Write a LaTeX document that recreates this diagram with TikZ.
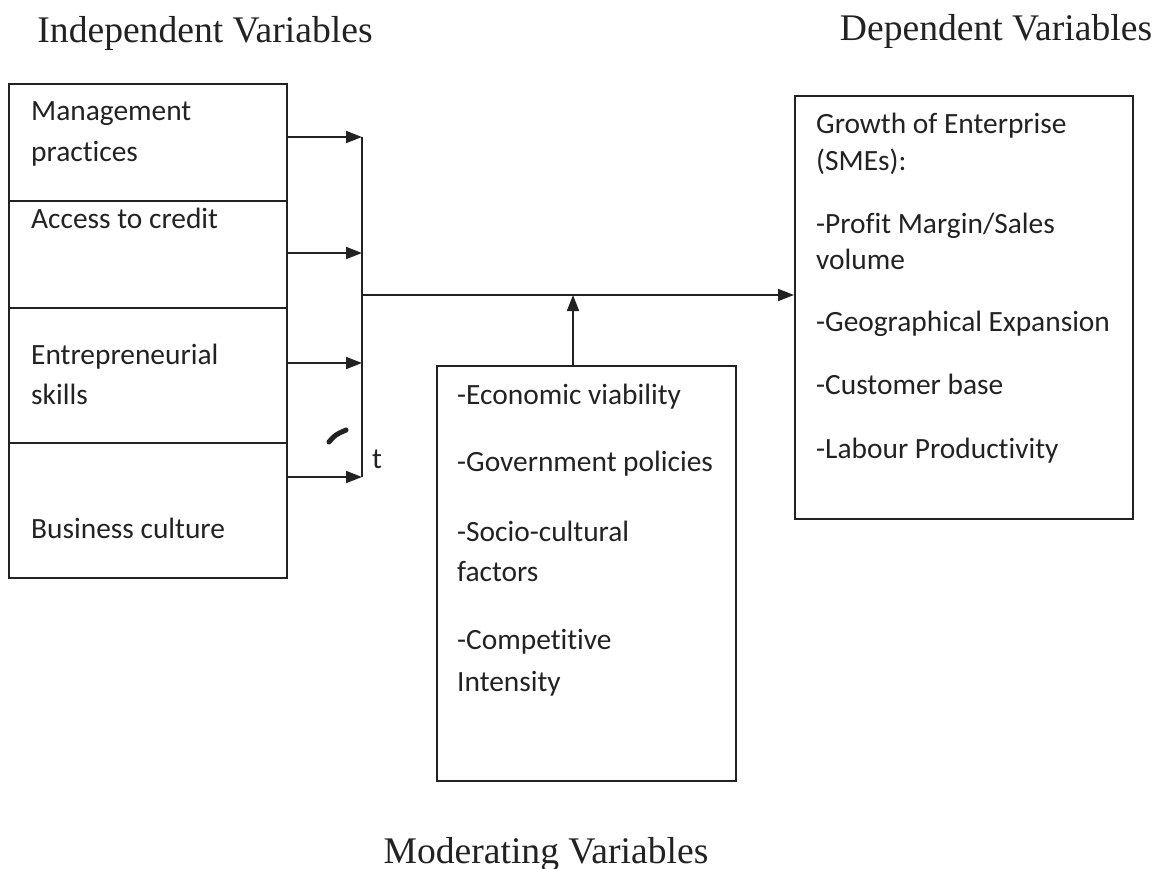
\documentclass[tikz,border=0pt]{standalone}
\usepackage{fontspec}
\setmainfont{Liberation Serif}
\newfontfamily\boxfont[Ligatures={NoCommon}]{Carlito}
\usetikzlibrary{arrows.meta}
\definecolor{ink}{HTML}{222222}
\tikzset{
  box/.style={draw=ink, line width=1.8pt, rectangle, inner sep=0pt, anchor=north west},
  lbl/.style={anchor=base west, inner sep=0pt, font=\boxfont\fontsize{29.4}{34}\selectfont, text=ink},
  title/.style={anchor=base, inner sep=0pt, font=\fontsize{37.6}{42}\selectfont, text=ink},
  conn/.style={draw=ink, line width=1.8pt},
  arr/.style={conn, -{Triangle[length=16pt,width=12pt]}}
}
\begin{document}
\begin{tikzpicture}[x=1pt,y=-1pt]
\useasboundingbox (0,0) rectangle (1166,869);
% titles
\node[title] (tind) at (205,43) {Independent Variables};
\node[title] (tdep) at (996,41) {Dependent Variables};
\node[title] (tmod) at (546,863) {Moderating Variables};
% left stacked boxes
\node[box, minimum width=278pt, minimum height=117pt] (b1) at (8,83) {};
\node[box, minimum width=278pt, minimum height=107pt] (b2) at (8,200) {};
\node[box, minimum width=278pt, minimum height=135pt] (b3) at (8,307) {};
\node[box, minimum width=278pt, minimum height=135pt] (b4) at (8,442) {};
\node[lbl] (l1a) at (31,121) {Management};
\node[lbl] (l1b) at (31,161) {practices};
\node[lbl] (l2) at (31,228) {Access to credit};
\node[lbl] (l3a) at (31,364) {Entrepreneurial};
\node[lbl] (l3b) at (31,404) {skills};
\node[lbl] (l4) at (31,538) {Business culture};
% junction bar
\coordinate (j1) at (362,137);
\coordinate (j2) at (362,253);
\coordinate (j3) at (362,363);
\coordinate (j4) at (362,477);
\coordinate (jm) at (362,295);
\draw[conn] (j1) -- (j4);
\draw[arr] (b1.east |- j1) -- (j1);
\draw[arr] (b2.east |- j2) -- (j2);
\draw[arr] (b3.east |- j3) -- (j3);
\draw[arr] (b4.east |- j4) -- (j4);
\node[lbl] (tmark) at (372,468) {t};
\draw[ink, line width=5pt, line cap=round] (329,442) .. controls (335,435) .. (346,430);
% moderating box
\node[box, minimum width=299pt, minimum height=415pt] (mod) at (436,365) {};
\node[lbl] (m1) at (457,404) {-Economic viability};
\node[lbl] (m2) at (457,471) {-Government policies};
\node[lbl] (m3a) at (457,541) {-Socio-cultural};
\node[lbl] (m3b) at (457,581) {factors};
\node[lbl] (m4a) at (457,649) {-Competitive};
\node[lbl] (m4b) at (457,691) {Intensity};
% dependent box
\node[box, minimum width=338pt, minimum height=423pt] (dep) at (794,95) {};
\node[lbl] (d1a) at (816,134) {Growth of Enterprise};
\node[lbl] (d1b) at (816,171) {(SMEs):};
\node[lbl] (d2a) at (816,233) {-Profit Margin/Sales};
\node[lbl] (d2b) at (816,269) {volume};
\node[lbl] (d3) at (816,331) {-Geographical Expansion};
\node[lbl] (d4) at (816,394) {-Customer base};
\node[lbl] (d5) at (816,458) {-Labour Productivity};
% main arrow and moderating arrow
\draw[arr] (jm) -- (dep.west |- jm);
\coordinate (mj) at (573,295);
\draw[arr] (mod.north -| mj) -- (mj);
\end{tikzpicture}
\end{document}
